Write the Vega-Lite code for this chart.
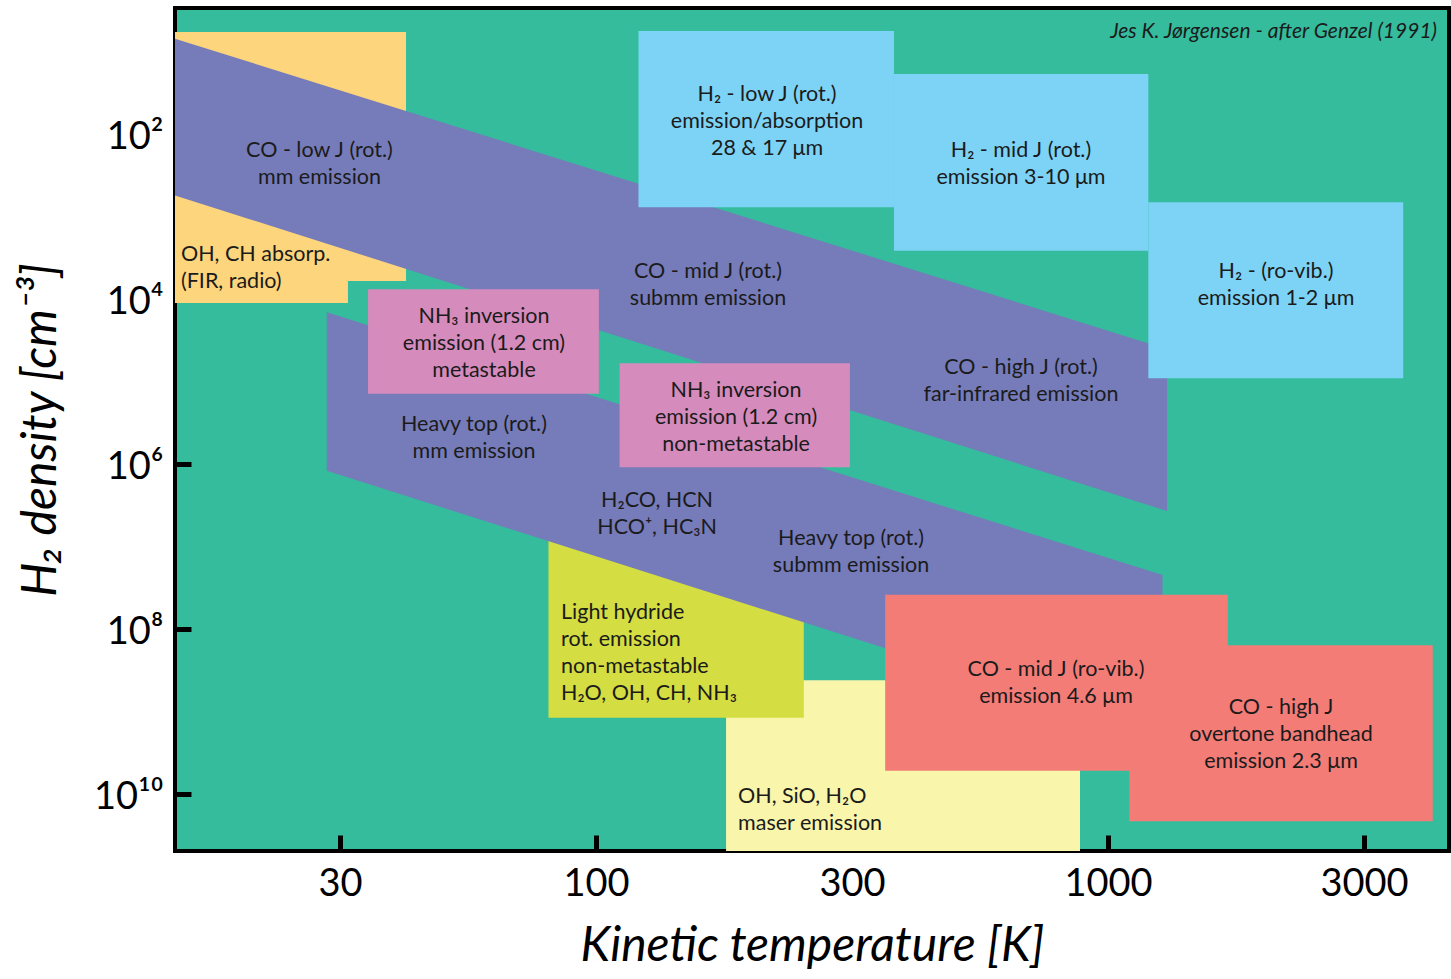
{
  "$schema": "https://vega.github.io/schema/vega-lite/v6.json",
  "width": 1274,
  "height": 843,
  "autosize": {"type": "none"},
  "padding": {"left": 175, "top": 8, "right": 2, "bottom": 128},
  "background": "#ffffff",
  "config": {
    "font": "Lato",
    "view": {"fill": "#34BC9D", "stroke": "#000000", "strokeWidth": 4},
    "axis": {
      "grid": false,
      "domain": false,
      "ticks": true,
      "tickColor": "#000000",
      "tickWidth": 5,
      "tickSize": -16,
      "labelColor": "#000000",
      "titleColor": "#000000",
      "labelFont": "Lato",
      "titleFont": "Lato",
      "titleFontWeight": "normal",
      "titleFontStyle": "italic"
    }
  },
  "datasets": {
    "under": [
      {"region": "OH, CH absorption", "kind": "absorption", "T": 15.06, "T2": 42.56, "n": 5.8, "n2": 6049},
      {"region": "OH, CH absorption", "kind": "absorption", "T": 15.06, "T2": 32.78, "n": 5.8, "n2": 11181},
      {"region": "maser", "kind": "maser", "T": 179.5, "T2": 881.7, "n": 4.184e8, "n2": 4.909e10},
      {"region": "light hydride", "kind": "hydride", "T": 80.76, "T2": 254.6, "n": 8.58e6, "n2": 1.189e9}
    ],
    "bands": [
      {"band": "CO rotational", "kind": "rotational", "T": 15.06, "n": 7.0, "n2": 554.9},
      {"band": "CO rotational", "kind": "rotational", "T": 1304, "n": 40600, "n2": 3.713e6},
      {"band": "heavy top", "kind": "rotational", "T": 29.8, "n": 14496, "n2": 1.2058e6},
      {"band": "heavy top", "kind": "rotational", "T": 1278, "n": 2.215e7, "n2": 2.0096e9}
    ],
    "over": [
      {"region": "H2 low J", "kind": "H2", "T": 121.06, "T2": 381.9, "n": 5.641, "n2": 773.5},
      {"region": "H2 mid J", "kind": "H2", "T": 381.9, "T2": 1198.9, "n": 18.74, "n2": 2597},
      {"region": "H2 ro-vib", "kind": "H2", "T": 1198.9, "T2": 3771, "n": 672.9, "n2": 91450},
      {"region": "NH3 metastable", "kind": "NH3", "T": 35.88, "T2": 101.31, "n": 7627, "n2": 140560},
      {"region": "NH3 non-metastable", "kind": "NH3", "T": 111.2, "T2": 313.3, "n": 60170, "n2": 1.0965e6},
      {"region": "CO mid J ro-vib", "kind": "CO vib", "T": 367.1, "T2": 1713.9, "n": 3.839e7, "n2": 5.219e9},
      {"region": "CO high J overtone", "kind": "CO vib", "T": 1100.5, "T2": 4307, "n": 1.576e8, "n2": 2.142e10}
    ],
    "centered": [
      {"label": "CO - low J (rot.)\nmm emission", "T": 28.84, "n": 152.0},
      {"label": "H₂ - low J (rot.)\nemission/absorption\n28 & 17 μm", "T": 215.8, "n": 31.85},
      {"label": "H₂ - mid J (rot.)\nemission 3-10 μm", "T": 676.1, "n": 152.0},
      {"label": "H₂ - (ro-vib.)\nemission 1-2 μm", "T": 2129, "n": 4452},
      {"label": "CO - mid J (rot.)\nsubmm emission", "T": 165.5, "n": 4452},
      {"label": "CO - high J (rot.)\nfar-infrared emission", "T": 676.1, "n": 64890},
      {"label": "NH₃ inversion\nemission (1.2 cm)\nmetastable", "T": 60.43, "n": 15630},
      {"label": "NH₃ inversion\nemission (1.2 cm)\nnon-metastable", "T": 187.7, "n": 123300},
      {"label": "Heavy top (rot.)\nmm emission", "T": 57.77, "n": 318500},
      {"label": "H₂CO, HCN\nHCO⁺, HC₃N", "T": 131.6, "n": 2.656e6},
      {"label": "Heavy top (rot.)\nsubmm emission", "T": 314.9, "n": 7.671e6},
      {"label": "CO - mid J (ro-vib.)\nemission 4.6 μm", "T": 791.5, "n": 2.97e8},
      {"label": "CO - high J\novertone bandhead\nemission 2.3 μm", "T": 2177, "n": 8.577e8}
    ],
    "leftAligned": [
      {"label": "OH, CH absorp.\n(FIR, radio)", "T": 15.47, "n": 2769},
      {"label": "Light hydride\nrot. emission\nnon-metastable\nH₂O, OH, CH, NH₃", "T": 85.45, "n": 6.05e7},
      {"label": "OH, SiO, H₂O\nmaser emission", "T": 189.4, "n": 1.028e10}
    ],
    "credit": [
      {"label": "Jes K. Jørgensen - after Genzel (1991)", "T": 4391, "n": 5.641}
    ]
  },
  "encoding": {
    "x": {
      "field": "T",
      "type": "quantitative",
      "scale": {"type": "log", "domain": [15.06, 4634], "nice": false},
      "axis": {
        "values": [31.6228, 100, 316.228, 1000, 3162.28],
        "labelExpr": "datum.value < 50 ? '30' : datum.value < 200 ? '100' : datum.value < 500 ? '300' : datum.value < 2000 ? '1000' : '3000'",
        "labelFontSize": 38,
        "labelPadding": 30,
        "labelFlush": false,
        "titleFontSize": 48,
        "titlePadding": 19
      },
      "title": "Kinetic temperature [K]"
    },
    "y": {
      "field": "n",
      "type": "quantitative",
      "scale": {"type": "log", "domain": [2.97, 4.909e10], "reverse": true, "nice": false},
      "axis": {
        "values": [100, 10000, 1000000, 100000000, 10000000000],
        "labelExpr": "datum.value == 100 ? '10²' : datum.value == 10000 ? '10⁴' : datum.value == 1000000 ? '10⁶' : datum.value == 100000000 ? '10⁸' : '10¹⁰'",
        "labelFontSize": 38,
        "labelPadding": 28,
        "labelOffset": 4,
        "labelFlush": false,
        "titleFontSize": 48,
        "titlePadding": 28
      },
      "title": "H₂ density [cm⁻³]"
    }
  },
  "layer": [
    {
      "data": {"name": "under"},
      "mark": {"type": "rect", "opacity": 1},
      "encoding": {
        "x2": {"field": "T2"},
        "y2": {"field": "n2"},
        "color": {
          "field": "kind",
          "type": "nominal",
          "scale": {
            "domain": ["absorption", "maser", "hydride", "rotational", "H2", "NH3", "CO vib"],
            "range": ["#FDD57C", "#F9F5AA", "#D4DD41", "#767BBA", "#7DD3F6", "#D68BBD", "#F37C77"]
          },
          "legend": null
        }
      }
    },
    {
      "data": {"name": "bands"},
      "mark": {"type": "area", "opacity": 1, "interpolate": "linear"},
      "encoding": {
        "y2": {"field": "n2"},
        "detail": {"field": "band", "type": "nominal"},
        "color": {"field": "kind", "type": "nominal", "legend": null}
      }
    },
    {
      "data": {"name": "over"},
      "mark": {"type": "rect", "opacity": 1},
      "encoding": {
        "x2": {"field": "T2"},
        "y2": {"field": "n2"},
        "color": {"field": "kind", "type": "nominal", "legend": null}
      }
    },
    {
      "data": {"name": "centered"},
      "mark": {"type": "text", "font": "Lato", "fontSize": 21.5, "lineHeight": 27, "lineBreak": "\n", "align": "center", "baseline": "middle", "dy": 2, "color": "#1b1b1b"},
      "encoding": {"text": {"field": "label"}}
    },
    {
      "data": {"name": "leftAligned"},
      "mark": {"type": "text", "font": "Lato", "fontSize": 21.5, "lineHeight": 27, "lineBreak": "\n", "align": "left", "baseline": "middle", "dy": 2, "color": "#1b1b1b"},
      "encoding": {"text": {"field": "label"}}
    },
    {
      "data": {"name": "credit"},
      "mark": {"type": "text", "font": "Lato", "fontSize": 21, "fontStyle": "italic", "align": "right", "baseline": "middle", "dy": 1, "color": "#1b1b1b"},
      "encoding": {"text": {"field": "label"}}
    }
  ]
}
